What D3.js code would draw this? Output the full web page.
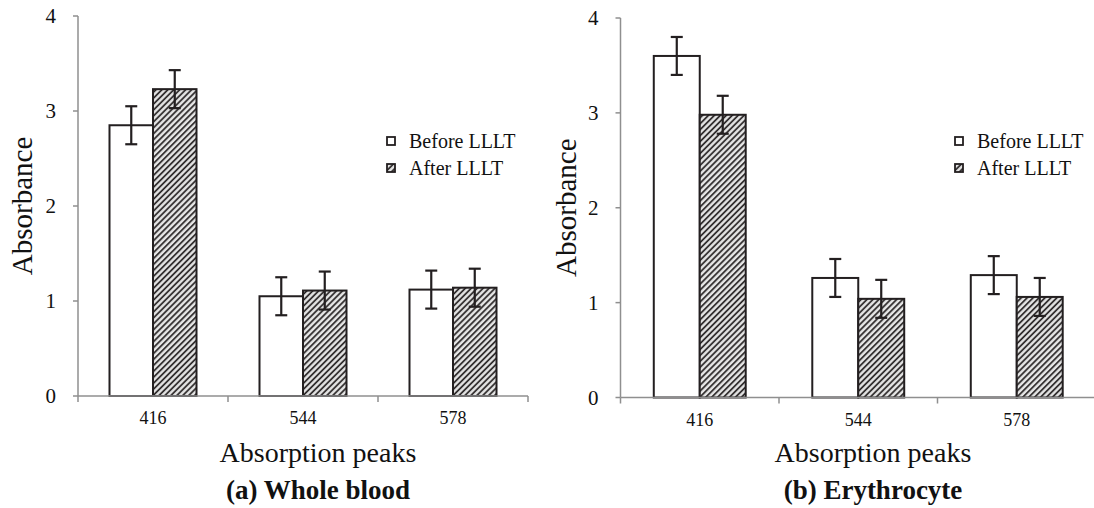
<!DOCTYPE html>
<html>
  <head>
    <meta charset="UTF-8" />
    <style>
      body {
        margin: 0;
        background: #fff;
      }
    </style>
  </head>
  <body>
    <svg></svg>
    <script src="https://d3js.org/d3.v7.min.js"></script>
    <script>
      // data
      const categories = ["416", "544", "578"];
      const seriesNames = ["Before LLLT", "After LLLT"];
      const yTicks = [0, 1, 2, 3, 4];

      const wholeBefore = [2.85, 1.05, 1.12];
      const wholeAfter = [3.23, 1.11, 1.14];
      const wholeBeforeErr = [0.2, 0.2, 0.2];
      const wholeAfterErr = [0.2, 0.2, 0.2];

      const eryBefore = [3.6, 1.26, 1.29];
      const eryAfter = [2.98, 1.04, 1.06];
      const eryBeforeErr = [0.2, 0.2, 0.2];
      const eryAfterErr = [0.2, 0.2, 0.2];

      const serif = "'Liberation Serif', 'DejaVu Serif', serif";

      let width = 1094,
        height = 508;

      let svg = d3
        .select("svg")
        .attr("width", width)
        .attr("height", height)
        .attr("font-family", serif);

      // hatch for the "after" bars
      let defs = svg.append("defs");
      let pat = defs
        .append("pattern")
        .attr("id", "hatch")
        .attr("patternUnits", "userSpaceOnUse")
        .attr("width", 4.2)
        .attr("height", 4.2)
        .attr("patternTransform", "rotate(45)");
      pat
        .append("rect")
        .attr("width", 4.2)
        .attr("height", 4.2)
        .attr("fill", "#e6e6e6");
      pat
        .append("line")
        .attr("x1", 1)
        .attr("x2", 1)
        .attr("y1", 0)
        .attr("y2", 4.2)
        .attr("stroke", "#262223")
        .attr("stroke-width", 1.7);

      const ink = "#231f20";
      const axisGrey = "#8f8f8f";

      function drawPanel(opt) {
        let g = svg.append("g");

        let x0 = d3
          .scaleBand()
          .domain(categories)
          .range([opt.left, opt.right])
          .padding(0);

        let bw = x0.bandwidth();
        let x1 = d3
          .scaleBand()
          .domain(seriesNames)
          .range([bw * 0.21, bw * 0.79])
          .padding(0);

        let y = d3.scaleLinear().domain([0, 4]).range([opt.bottom, opt.top]);

        let rows = categories.map((c, i) => ({
          cat: c,
          vals: [
            { s: seriesNames[0], v: opt.before[i], e: opt.beforeErr[i] },
            { s: seriesNames[1], v: opt.after[i], e: opt.afterErr[i] },
          ],
        }));

        // axes
        g.append("line")
          .attr("x1", opt.left)
          .attr("x2", opt.left)
          .attr("y1", y(0))
          .attr("y2", y(4))
          .attr("stroke", axisGrey)
          .attr("stroke-width", 1.5);

        g.selectAll(".ytick")
          .data(yTicks)
          .enter()
          .append("line")
          .attr("x1", opt.left - 5)
          .attr("x2", opt.left)
          .attr("y1", (d) => y(d))
          .attr("y2", (d) => y(d))
          .attr("stroke", axisGrey)
          .attr("stroke-width", 1.5);

        g.selectAll(".ylab")
          .data(yTicks)
          .enter()
          .append("text")
          .attr("x", opt.left - 22)
          .attr("y", (d) => y(d) + 7)
          .attr("text-anchor", "end")
          .attr("fill", "#111")
          .style("font-size", "21px")
          .text((d) => d);

        // bars
        let grp = g
          .selectAll(".grp")
          .data(rows)
          .enter()
          .append("g")
          .attr("transform", (d) => "translate(" + x0(d.cat) + ",0)");

        grp
          .selectAll("rect")
          .data((d) => d.vals)
          .enter()
          .append("rect")
          .attr("x", (d) => x1(d.s))
          .attr("width", x1.bandwidth())
          .attr("y", (d) => y(d.v))
          .attr("height", (d) => y(0) - y(d.v))
          .attr("fill", (d, i) => (i == 0 ? "#fff" : "url(#hatch)"))
          .attr("stroke", ink)
          .attr("stroke-width", 2);

        // error bars
        let eb = grp
          .selectAll(".err")
          .data((d) => d.vals)
          .enter()
          .append("g")
          .attr("stroke", ink)
          .attr("stroke-width", 2.2);
        let cx = (d) => x1(d.s) + x1.bandwidth() / 2;
        eb.append("line")
          .attr("x1", cx)
          .attr("x2", cx)
          .attr("y1", (d) => y(d.v + d.e))
          .attr("y2", (d) => y(d.v - d.e));
        eb.append("line")
          .attr("x1", (d) => cx(d) - 6)
          .attr("x2", (d) => cx(d) + 6)
          .attr("y1", (d) => y(d.v + d.e))
          .attr("y2", (d) => y(d.v + d.e));
        eb.append("line")
          .attr("x1", (d) => cx(d) - 6)
          .attr("x2", (d) => cx(d) + 6)
          .attr("y1", (d) => y(d.v - d.e))
          .attr("y2", (d) => y(d.v - d.e));

        // x axis on top of bar bottoms
        g.append("line")
          .attr("x1", opt.left)
          .attr("x2", opt.right)
          .attr("y1", y(0))
          .attr("y2", y(0))
          .attr("stroke", axisGrey)
          .attr("stroke-width", 1.5);

        let bounds = categories.map((c) => x0(c)).concat([opt.right]);
        g.selectAll(".xtick")
          .data(bounds)
          .enter()
          .append("line")
          .attr("x1", (d) => d)
          .attr("x2", (d) => d)
          .attr("y1", y(0))
          .attr("y2", y(0) + 6)
          .attr("stroke", axisGrey)
          .attr("stroke-width", 1.5);

        g.selectAll(".xlab")
          .data(categories)
          .enter()
          .append("text")
          .attr("x", (d) => x0(d) + bw / 2)
          .attr("y", y(0) + 28)
          .attr("text-anchor", "middle")
          .attr("fill", "#111")
          .style("font-size", "18px")
          .text((d) => d);

        // titles
        g.append("text")
          .attr(
            "transform",
            "translate(" + opt.yLabelX + "," + (opt.top + opt.bottom) / 2 + ") rotate(-90)"
          )
          .attr("text-anchor", "middle")
          .attr("dy", "0.35em")
          .attr("fill", "#111")
          .style("font-size", "29px")
          .text("Absorbance");

        g.append("text")
          .attr("x", opt.titleX)
          .attr("y", 462)
          .attr("text-anchor", "middle")
          .attr("fill", "#111")
          .style("font-size", "28px")
          .text("Absorption peaks");

        g.append("text")
          .attr("x", opt.titleX)
          .attr("y", 499)
          .attr("text-anchor", "middle")
          .attr("fill", "#111")
          .style("font-size", "27px")
          .style("font-weight", "bold")
          .text(opt.caption);

        // legend
        let lg = g
          .selectAll(".leg")
          .data(seriesNames)
          .enter()
          .append("g")
          .attr(
            "transform",
            (d, i) => "translate(" + opt.legendX + "," + (148 + i * 27) + ")"
          );
        lg.append("rect")
          .attr("x", 0)
          .attr("y", -11)
          .attr("width", 8)
          .attr("height", 8)
          .attr("fill", (d, i) => (i == 0 ? "#fff" : "url(#hatch)"))
          .attr("stroke", ink)
          .attr("stroke-width", 1.8);
        lg.append("text")
          .attr("x", 22)
          .attr("y", 0)
          .attr("fill", "#111")
          .style("font-size", "20px")
          .text((d) => d);
      }

      drawPanel({
        left: 78,
        right: 528,
        top: 16,
        bottom: 396,
        before: wholeBefore,
        after: wholeAfter,
        beforeErr: wholeBeforeErr,
        afterErr: wholeAfterErr,
        yLabelX: 22,
        titleX: 318,
        legendX: 387,
        caption: "(a) Whole blood",
      });

      drawPanel({
        left: 620.5,
        right: 1096,
        top: 18,
        bottom: 397.5,
        before: eryBefore,
        after: eryAfter,
        beforeErr: eryBeforeErr,
        afterErr: eryAfterErr,
        yLabelX: 566,
        titleX: 873,
        legendX: 955,
        caption: "(b) Erythrocyte",
      });
    </script>
  </body>
</html>
